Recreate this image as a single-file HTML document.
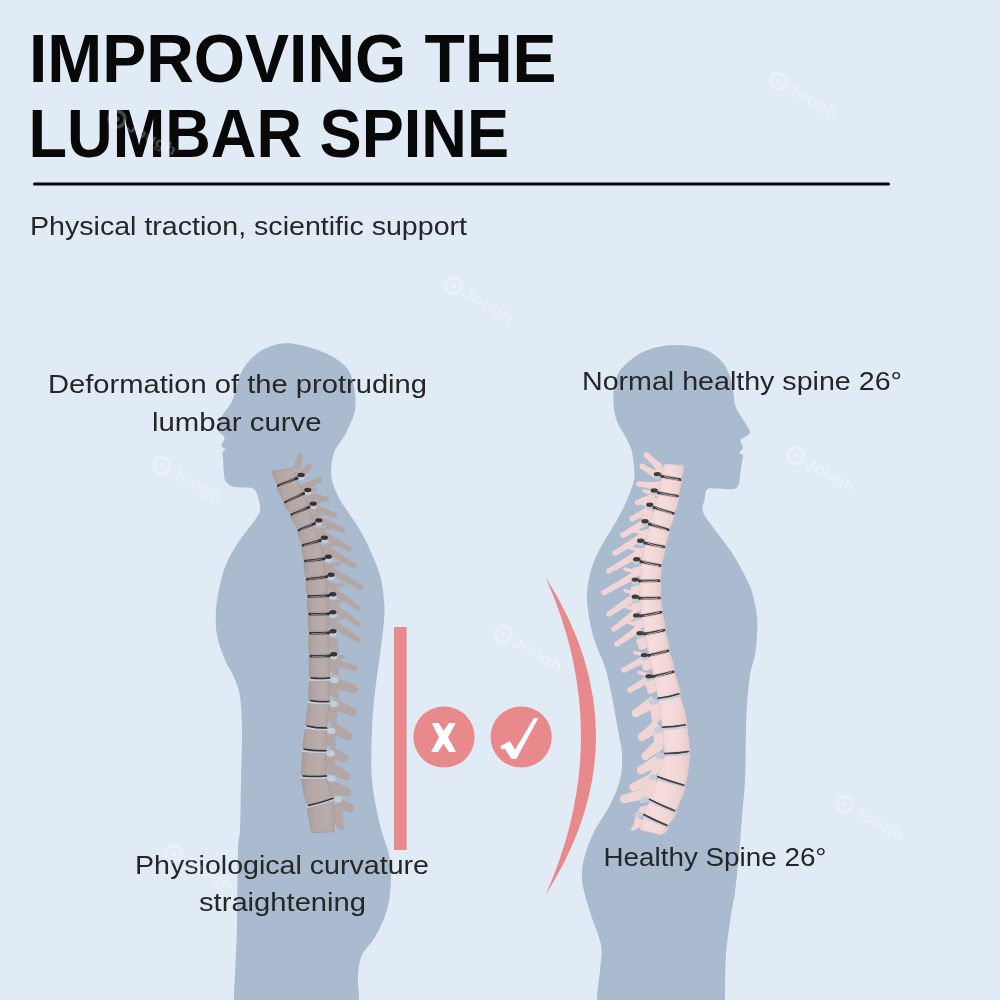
<!DOCTYPE html>
<html><head><meta charset="utf-8"><style>
html,body{margin:0;padding:0;}
body{width:1000px;height:1000px;overflow:hidden;background:#E1EBF6;font-family:"Liberation Sans", sans-serif;}
svg{position:absolute;left:0;top:0;}
.tx{will-change:transform;}
</style></head><body>
<svg width="1000" height="1000" viewBox="0 0 1000 1000" font-family='"Liberation Sans", sans-serif'>
<path d="M290.0,343.3 C299.7,344.1 314.8,348.7 324.0,352.5 C333.2,356.3 340.3,361.5 345.0,366.0 C349.7,370.5 350.7,374.2 352.4,379.5 C354.1,384.8 355.1,391.8 355.4,397.5 C355.7,403.2 355.7,407.8 354.0,414.0 C352.3,420.2 348.2,429.0 345.0,435.0 C341.8,441.0 337.2,445.0 335.0,450.0 C332.8,455.0 332.0,460.0 331.5,465.0 C331.0,470.0 330.8,474.5 332.0,480.0 C333.2,485.5 336.3,492.7 339.0,498.0 C341.7,503.3 344.5,506.7 348.0,512.0 C351.5,517.3 356.3,523.7 360.0,530.0 C363.7,536.3 366.7,542.5 370.0,550.0 C373.3,557.5 377.7,566.7 380.0,575.0 C382.3,583.3 383.3,592.5 384.0,600.0 C384.7,607.5 384.7,610.8 384.0,620.0 C383.3,629.2 381.5,643.0 380.0,655.0 C378.5,667.0 376.3,679.5 375.0,692.0 C373.7,704.5 372.5,715.3 372.0,730.0 C371.5,744.7 370.7,764.2 372.0,780.0 C373.3,795.8 377.2,812.5 380.0,825.0 C382.8,837.5 387.2,845.8 389.0,855.0 C390.8,864.2 391.3,870.8 391.0,880.0 C390.7,889.2 389.7,900.5 387.0,910.0 C384.3,919.5 379.2,929.5 375.0,937.0 C370.8,944.5 364.8,948.7 362.0,955.0 C359.2,961.3 358.5,967.5 358.0,975.0 C357.5,982.5 358.7,985.8 359.0,1000.0 C359.3,1014.2 380.8,1050.0 360.0,1060.0 C339.2,1070.0 255.0,1070.0 234.0,1060.0 C213.0,1050.0 233.8,1014.2 234.0,1000.0 C234.2,985.8 234.5,987.5 235.0,975.0 C235.5,962.5 236.5,945.8 237.0,925.0 C237.5,904.2 237.5,865.8 238.0,850.0 C238.5,834.2 239.5,841.7 240.0,830.0 C240.5,818.3 240.7,796.7 241.0,780.0 C241.3,763.3 242.2,743.8 242.0,730.0 C241.8,716.2 241.3,705.8 240.0,697.0 C238.7,688.2 236.5,683.2 234.0,677.0 C231.5,670.8 227.8,667.0 225.0,660.0 C222.2,653.0 218.5,643.3 217.0,635.0 C215.5,626.7 215.5,618.3 216.0,610.0 C216.5,601.7 218.2,593.0 220.0,585.0 C221.8,577.0 223.7,569.5 227.0,562.0 C230.3,554.5 235.3,547.0 240.0,540.0 C244.7,533.0 251.7,525.0 255.0,520.0 C258.3,515.0 259.5,513.8 260.0,510.0 C260.5,506.2 259.2,500.6 258.0,497.0 C256.8,493.4 256.0,490.1 253.0,488.5 C250.0,486.9 243.7,487.9 240.0,487.5 C236.3,487.1 233.4,487.1 231.0,486.0 C228.6,484.9 226.7,483.0 225.5,481.0 C224.3,479.0 224.3,476.5 224.0,474.0 C223.7,471.5 223.7,468.7 223.5,466.0 C223.3,463.3 223.2,460.2 223.0,458.0 C222.8,455.8 222.1,453.9 222.5,452.5 C222.9,451.1 225.7,450.6 225.5,449.5 C225.3,448.4 221.9,447.2 221.5,446.0 C221.1,444.8 222.5,443.5 223.0,442.0 C223.5,440.5 225.1,438.6 224.5,437.0 C223.9,435.4 220.6,434.0 219.5,432.5 C218.4,431.0 217.9,430.1 218.0,428.0 C218.1,425.9 219.0,422.5 220.0,420.0 C221.0,417.5 222.3,415.5 224.0,413.0 C225.7,410.5 228.3,407.8 230.0,405.0 C231.7,402.2 232.8,399.3 234.0,396.0 C235.2,392.7 235.8,388.8 237.0,385.0 C238.2,381.2 238.8,377.2 241.0,373.0 C243.2,368.8 245.8,364.2 250.0,360.0 C254.2,355.8 259.3,350.8 266.0,348.0 C272.7,345.2 280.3,342.6 290.0,343.3 Z" fill="#AABACF"/><path d="M675.0,345.0 C685.0,344.8 697.0,346.5 705.0,349.5 C713.0,352.5 718.6,357.8 723.0,363.0 C727.4,368.2 729.7,375.5 731.5,381.0 C733.3,386.5 733.1,391.8 733.8,396.0 C734.5,400.2 734.1,402.8 735.5,406.5 C736.9,410.2 739.6,413.8 742.0,418.0 C744.4,422.2 749.3,428.4 750.0,431.5 C750.7,434.6 747.6,435.1 746.0,436.5 C744.4,437.9 741.0,438.1 740.5,440.0 C740.0,441.9 743.1,445.8 742.9,448.0 C742.7,450.2 739.5,451.8 739.5,453.0 C739.5,454.2 742.6,453.5 742.9,455.5 C743.2,457.5 742.0,461.8 741.5,464.8 C741.0,467.8 740.6,470.6 740.2,473.6 C739.8,476.6 740.0,480.4 739.0,483.0 C738.0,485.6 737.8,488.1 734.0,489.0 C730.2,489.9 721.0,488.4 716.5,488.5 C712.0,488.6 709.0,487.6 707.0,489.5 C705.0,491.4 705.2,496.2 704.5,500.0 C703.8,503.8 701.2,507.0 703.0,512.0 C704.8,517.0 710.5,523.7 715.0,530.0 C719.5,536.3 725.5,543.3 730.0,550.0 C734.5,556.7 738.3,563.0 742.0,570.0 C745.7,577.0 749.5,584.2 752.0,592.0 C754.5,599.8 756.2,609.8 757.0,617.0 C757.8,624.2 757.3,628.7 757.0,635.0 C756.7,641.3 756.2,648.3 755.0,655.0 C753.8,661.7 751.3,666.7 750.0,675.0 C748.7,683.3 747.7,695.8 747.0,705.0 C746.3,714.2 746.3,717.5 746.0,730.0 C745.7,742.5 745.7,765.5 745.0,780.0 C744.3,794.5 743.0,804.5 742.0,817.0 C741.0,829.5 740.2,842.5 739.0,855.0 C737.8,867.5 736.3,882.0 735.0,892.0 C733.7,902.0 732.5,904.5 731.0,915.0 C729.5,925.5 727.0,940.8 726.0,955.0 C725.0,969.2 725.2,982.5 725.0,1000.0 C724.8,1017.5 746.3,1050.0 725.0,1060.0 C703.7,1070.0 618.3,1070.0 597.0,1060.0 C575.7,1050.0 596.5,1015.0 597.0,1000.0 C597.5,985.0 599.3,979.2 600.0,970.0 C600.7,960.8 602.7,954.7 601.0,945.0 C599.3,935.3 593.2,922.8 590.0,912.0 C586.8,901.2 582.8,889.5 582.0,880.0 C581.2,870.5 582.8,863.3 585.0,855.0 C587.2,846.7 590.8,838.3 595.0,830.0 C599.2,821.7 605.8,813.3 610.0,805.0 C614.2,796.7 618.0,788.3 620.0,780.0 C622.0,771.7 622.3,763.3 622.0,755.0 C621.7,746.7 619.8,740.5 618.0,730.0 C616.2,719.5 613.2,702.5 611.0,692.0 C608.8,681.5 607.7,675.3 605.0,667.0 C602.3,658.7 597.7,650.3 595.0,642.0 C592.3,633.7 590.3,625.3 589.0,617.0 C587.7,608.7 586.5,600.3 587.0,592.0 C587.5,583.7 589.5,574.8 592.0,567.0 C594.5,559.2 597.8,552.8 602.0,545.0 C606.2,537.2 612.8,527.5 617.0,520.0 C621.2,512.5 624.2,506.7 627.0,500.0 C629.8,493.3 632.9,485.8 634.0,480.0 C635.1,474.2 634.1,470.0 633.7,465.0 C633.3,460.0 632.9,454.7 631.5,450.0 C630.1,445.3 628.0,442.0 625.5,437.0 C623.0,432.0 618.5,425.8 616.5,420.0 C614.5,414.2 613.8,408.2 613.5,402.0 C613.2,395.8 613.4,388.3 615.0,382.5 C616.6,376.7 618.0,372.2 623.0,367.0 C628.0,361.8 636.3,354.7 645.0,351.0 C653.7,347.3 665.0,345.2 675.0,345.0 Z" fill="#AABACF"/>
<defs><linearGradient id="gl" x1="0" y1="0" x2="1" y2="0"><stop offset="0" stop-color="#A89B99"/><stop offset="0.25" stop-color="#B3A6A4"/><stop offset="0.7" stop-color="#B9ADAB"/><stop offset="1" stop-color="#B3A6A4"/></linearGradient></defs><g fill="#B3A6A4"><polygon points="290.0,470.0 301.0,473.0 306.3,478.5 302.3,478.5 291.4,474.9"/><polygon points="294.3,482.0 305.3,485.0 313.0,494.5 309.0,494.5 297.7,489.2"/><polygon points="301.0,497.6 312.0,500.6 318.4,507.5 314.4,507.5 303.7,503.7"/><polygon points="306.4,511.1 317.4,514.1 323.9,523.5 319.9,523.5 309.1,518.9"/><polygon points="311.9,527.5 322.9,530.5 329.6,539.5 325.6,539.5 314.8,535.7"/><polygon points="317.6,544.1 328.6,547.1 333.5,556.5 329.5,556.5 320.2,552.8"/><polygon points="321.5,562.0 332.5,565.0 336.2,574.5 332.2,574.5 322.9,570.5"/><polygon points="324.2,580.0 335.2,583.0 338.0,592.5 334.0,592.5 325.6,588.4"/><polygon points="326.0,598.8 337.0,601.8 338.0,610.5 334.0,610.5 326.0,607.3"/><polygon points="326.0,616.8 337.0,619.8 338.1,629.5 334.1,629.5 326.0,625.8"/><polygon points="326.1,635.8 337.1,638.8 338.8,652.5 334.8,652.5 326.5,646.8"/><polygon points="326.8,658.8 337.8,661.8 339.5,675.5 335.5,675.5 327.2,669.8"/><polygon points="327.5,681.9 338.5,684.9 338.9,698.5 334.9,698.5 327.3,693.3"/><polygon points="326.9,705.4 337.9,708.4 336.5,724.5 332.5,724.5 325.7,718.4"/><polygon points="324.5,731.9 335.5,734.9 335.7,747.5 331.7,747.5 324.1,742.7"/><polygon points="323.7,754.7 334.7,757.7 336.3,773.5 332.3,773.5 323.9,766.5"/><polygon points="324.3,780.0 335.3,783.0 343.1,799.5 339.1,799.5 327.1,789.5"/><polygon points="331.1,802.9 342.1,805.9 344.0,830.5 340.0,830.5 332.0,820.3"/><polygon points="300.0,471.0 302.5,456.7 297.5,455.3 292.7,469.0"/><circle cx="300.0" cy="456.0" r="2.8"/><polygon points="301.5,480.5 311.0,467.7 307.0,464.3 295.8,475.5"/><circle cx="309.0" cy="466.0" r="2.8"/><polygon points="304.5,491.4 320.2,482.3 317.8,477.7 301.1,484.6"/><circle cx="319.0" cy="480.0" r="2.8"/><polygon points="305.0,498.7 325.5,501.6 326.5,496.4 306.5,491.3"/><circle cx="326.0" cy="499.0" r="2.8"/><path d="M302.5,493.0 L315.5,489.5" stroke="#B3A6A4" stroke-width="3.4" stroke-linecap="round"/><polygon points="309.5,510.6 333.2,517.5 334.8,512.5 312.0,503.4"/><circle cx="334.0" cy="515.0" r="2.8"/><path d="M307.5,505.0 L320.5,501.5" stroke="#B3A6A4" stroke-width="3.4" stroke-linecap="round"/><polygon points="313.3,521.5 341.0,532.4 343.0,527.6 316.3,514.5"/><circle cx="342.0" cy="530.0" r="2.8"/><path d="M311.8,516.0 L324.8,512.5" stroke="#B3A6A4" stroke-width="3.4" stroke-linecap="round"/><polygon points="318.2,536.3 347.7,551.3 350.3,546.7 321.9,529.7"/><circle cx="349.0" cy="549.0" r="2.8"/><path d="M317.0,531.0 L330.0,527.5" stroke="#B3A6A4" stroke-width="3.4" stroke-linecap="round"/><polygon points="323.7,552.3 352.7,568.2 355.3,563.8 327.6,545.7"/><circle cx="354.0" cy="566.0" r="2.8"/><path d="M322.6,547.0 L335.6,543.5" stroke="#B3A6A4" stroke-width="3.4" stroke-linecap="round"/><polygon points="326.9,572.3 358.7,589.3 361.3,584.7 330.8,565.7"/><circle cx="360.0" cy="587.0" r="2.8"/><path d="M326.4,567.0 L339.4,563.5" stroke="#B3A6A4" stroke-width="3.4" stroke-linecap="round"/><polygon points="329.8,593.1 356.5,610.1 359.5,605.9 334.2,586.9"/><circle cx="358.0" cy="608.0" r="2.8"/><path d="M329.6,588.0 L342.6,584.5" stroke="#B3A6A4" stroke-width="3.4" stroke-linecap="round"/><polygon points="329.8,609.1 356.5,626.1 359.5,621.9 334.2,602.9"/><circle cx="358.0" cy="624.0" r="2.8"/><path d="M330.0,604.0 L343.0,600.5" stroke="#B3A6A4" stroke-width="3.4" stroke-linecap="round"/><polygon points="329.9,626.2 356.6,642.2 359.4,637.8 334.1,619.8"/><circle cx="358.0" cy="640.0" r="2.8"/><path d="M330.0,621.0 L343.0,617.5" stroke="#B3A6A4" stroke-width="3.4" stroke-linecap="round"/><polygon points="332.0,665.7 354.3,670.5 355.7,665.5 334.0,658.3"/><circle cx="355.0" cy="668.0" r="2.8"/><path d="M330.9,660.0 L343.9,656.5" stroke="#B3A6A4" stroke-width="3.4" stroke-linecap="round"/><polygon points="331.8,688.8 352.9,692.8 355.1,685.2 335.2,677.2"/><circle cx="354.0" cy="689.0" r="4.2"/><polygon points="330.6,709.6 351.5,715.7 354.5,708.3 335.0,698.4"/><circle cx="353.0" cy="712.0" r="4.2"/><polygon points="328.0,732.4 347.2,739.6 350.8,732.4 333.2,721.6"/><circle cx="349.0" cy="736.0" r="4.2"/><polygon points="327.3,757.5 342.5,761.7 345.5,754.3 331.9,746.5"/><circle cx="344.0" cy="758.0" r="4.2"/><polygon points="327.3,773.4 344.2,779.6 347.8,772.4 332.7,762.6"/><circle cx="346.0" cy="776.0" r="4.2"/><polygon points="330.3,792.7 345.7,795.8 348.3,788.2 334.1,781.3"/><circle cx="347.0" cy="792.0" r="4.2"/><polygon points="334.9,808.6 348.6,811.7 351.4,804.3 339.3,797.4"/><circle cx="350.0" cy="808.0" r="4.2"/></g><g fill="#C3CEDB"><ellipse cx="301.3" cy="477.5" rx="3.4" ry="2.6"/><ellipse cx="308.0" cy="492.7" rx="3.4" ry="2.6"/><ellipse cx="313.4" cy="506.4" rx="3.4" ry="2.6"/><ellipse cx="318.9" cy="523.0" rx="3.4" ry="2.6"/><ellipse cx="324.6" cy="540.5" rx="3.4" ry="2.6"/><ellipse cx="328.5" cy="559.5" rx="3.4" ry="2.6"/><ellipse cx="331.2" cy="577.4" rx="3.4" ry="2.6"/><ellipse cx="333.0" cy="596.9" rx="3.4" ry="2.6"/><ellipse cx="333.0" cy="614.9" rx="3.4" ry="2.6"/><ellipse cx="333.1" cy="634.0" rx="3.4" ry="2.6"/><ellipse cx="333.8" cy="657.0" rx="3.4" ry="2.6"/><ellipse cx="334.5" cy="680.1" rx="4.0" ry="3.2"/><ellipse cx="333.9" cy="704.0" rx="4.0" ry="3.2"/><ellipse cx="331.5" cy="730.9" rx="4.0" ry="3.2"/><ellipse cx="330.7" cy="753.4" rx="4.0" ry="3.2"/><ellipse cx="331.3" cy="778.3" rx="4.0" ry="3.2"/><ellipse cx="338.1" cy="799.3" rx="4.0" ry="3.2"/></g><g stroke="#3A3232" fill="none" stroke-linecap="round"><path d="M278.6,485.8 Q286.7,483.2 296.8,478.2" stroke-width="3.2"/><ellipse cx="301.1" cy="474.9" rx="3.6" ry="2.2" stroke="none" fill="#3A3232"/><path d="M285.6,502.4 Q293.5,499.2 303.5,493.6" stroke-width="3.2"/><ellipse cx="307.8" cy="490.0" rx="3.6" ry="2.2" stroke="none" fill="#3A3232"/><path d="M292.1,514.8 Q299.4,512.2 308.9,507.2" stroke-width="3.2"/><ellipse cx="313.2" cy="503.8" rx="3.6" ry="2.2" stroke="none" fill="#3A3232"/><path d="M299.2,530.3 Q305.8,528.2 314.4,523.7" stroke-width="3.2"/><ellipse cx="318.8" cy="520.4" rx="3.6" ry="2.2" stroke="none" fill="#3A3232"/><path d="M303.2,545.5 Q310.6,544.2 320.1,540.5" stroke-width="3.2"/><ellipse cx="324.4" cy="537.8" rx="3.6" ry="2.2" stroke="none" fill="#3A3232"/><path d="M305.6,561.2 Q313.8,561.2 324.0,558.8" stroke-width="3.2"/><ellipse cx="328.3" cy="556.8" rx="3.6" ry="2.2" stroke="none" fill="#3A3232"/><path d="M307.4,579.3 Q316.0,579.2 326.7,576.7" stroke-width="3.2"/><ellipse cx="331.0" cy="574.7" rx="3.6" ry="2.2" stroke="none" fill="#3A3232"/><path d="M308.9,596.3 Q317.6,597.2 328.5,595.7" stroke-width="3.2"/><ellipse cx="332.8" cy="594.2" rx="3.6" ry="2.2" stroke="none" fill="#3A3232"/><path d="M309.8,614.2 Q318.1,615.2 328.5,613.8" stroke-width="3.2"/><ellipse cx="332.8" cy="612.2" rx="3.6" ry="2.2" stroke="none" fill="#3A3232"/><path d="M310.6,633.2 Q318.6,634.2 328.6,632.8" stroke-width="3.2"/><ellipse cx="332.9" cy="631.3" rx="3.6" ry="2.2" stroke="none" fill="#3A3232"/><path d="M310.9,656.2 Q319.1,657.2 329.3,655.8" stroke-width="3.2"/><ellipse cx="333.6" cy="654.3" rx="3.6" ry="2.2" stroke="none" fill="#3A3232"/><path d="M311.1,678.1 Q319.6,679.2 329.5,677.9" stroke-width="1.5"/><path d="M310.4,700.5 Q318.9,702.2 328.9,701.5" stroke-width="1.5"/><path d="M307.2,725.9 Q316.1,728.2 326.5,728.1" stroke-width="1.5"/><path d="M304.2,749.2 Q314.2,751.2 325.7,750.8" stroke-width="1.5"/><path d="M303.2,776.0 Q314.0,777.2 326.3,776.0" stroke-width="1.5"/><path d="M308.7,805.6 Q320.2,803.2 333.1,798.4" stroke-width="1.5"/></g><g stroke="#A89B99" fill="none" opacity="0.9"><path d="M279.5,485.9 Q286.7,483.3 294.3,478.3" stroke-width="0.8"/><path d="M286.5,502.5 Q293.5,499.3 301.0,493.7" stroke-width="0.8"/><path d="M292.9,514.9 Q299.4,512.3 306.4,507.3" stroke-width="0.8"/><path d="M300.1,530.4 Q305.8,528.3 311.9,523.8" stroke-width="0.8"/><path d="M304.1,545.6 Q310.6,544.3 317.6,540.6" stroke-width="0.8"/><path d="M306.5,561.3 Q313.8,561.3 321.5,558.9" stroke-width="0.8"/><path d="M308.3,579.4 Q316.0,579.3 324.2,576.8" stroke-width="0.8"/><path d="M309.8,596.4 Q317.6,597.3 326.0,595.8" stroke-width="0.8"/><path d="M310.7,614.3 Q318.1,615.3 326.0,613.9" stroke-width="0.8"/><path d="M311.5,633.3 Q318.6,634.3 326.1,632.9" stroke-width="0.8"/><path d="M311.8,656.3 Q319.1,657.3 326.8,655.9" stroke-width="0.8"/></g><g fill="url(#gl)" stroke="#A89B99" stroke-width="0.9"><path d="M272.0,471.1 L292.0,468.6 L296.3,476.3 L277.0,483.9 Q273.6,478.6 272.0,471.1 Z"/><path d="M277.0,487.7 L296.3,480.1 L303.0,491.7 L284.0,500.5 Q279.2,494.5 277.0,487.7 Z"/><path d="M284.0,504.3 L303.0,495.5 L308.4,505.3 L290.4,512.9 Q286.4,509.1 284.0,504.3 Z"/><path d="M290.4,516.7 L308.4,509.1 L313.9,521.8 L297.6,528.4 Q293.2,522.7 290.4,516.7 Z"/><path d="M297.6,532.2 L313.9,525.6 L319.6,538.6 L301.6,543.6 Q299.2,537.5 297.6,532.2 Z"/><path d="M301.6,547.4 L319.6,542.4 L323.5,556.9 L304.0,559.3 Q302.3,553.2 301.6,547.4 Z"/><path d="M304.0,563.1 L323.5,560.7 L326.2,574.8 L305.8,577.4 Q304.1,570.3 304.0,563.1 Z"/><path d="M305.8,581.2 L326.2,578.6 L328.0,593.8 L307.3,594.4 Q305.9,588.4 305.8,581.2 Z"/><path d="M307.3,598.2 L328.0,597.6 L328.0,611.9 L308.2,612.3 Q306.9,605.3 307.3,598.2 Z"/><path d="M308.2,616.1 L328.0,615.7 L328.1,630.9 L309.0,631.3 Q307.9,623.8 308.2,616.1 Z"/><path d="M309.0,635.1 L328.1,634.7 L328.8,653.9 L309.3,654.3 Q308.4,644.7 309.0,635.1 Z"/><path d="M309.3,658.1 L328.8,657.7 L329.5,677.0 L309.6,677.2 Q308.6,667.7 309.3,658.1 Z"/><path d="M309.6,681.0 L329.5,680.8 L328.9,700.6 L308.9,699.6 Q308.5,690.1 309.6,681.0 Z"/><path d="M308.9,703.4 L328.9,704.4 L326.5,727.2 L305.7,725.0 Q306.6,713.8 308.9,703.4 Z"/><path d="M305.7,728.8 L326.5,731.0 L325.7,749.9 L302.7,748.3 Q303.4,738.5 305.7,728.8 Z"/><path d="M302.7,752.1 L325.7,753.7 L326.3,775.1 L301.7,775.1 Q301.3,764.0 302.7,752.1 Z"/><path d="M301.7,778.9 L326.3,778.9 L333.1,797.5 L307.2,804.7 Q303.1,793.8 301.7,778.9 Z"/><path d="M307.2,808.5 L333.1,801.3 L334.0,831.7 L312.0,832.5 Q309.0,819.4 307.2,808.5 Z"/></g><path d="M309.1,679.5 Q319.6,680.6 330.0,679.3" stroke="#C3CEDB" stroke-width="2.2" fill="none"/><path d="M308.4,701.9 Q318.9,703.6 329.4,702.9" stroke="#C3CEDB" stroke-width="2.2" fill="none"/><path d="M305.2,727.3 Q316.1,729.6 327.0,729.5" stroke="#C3CEDB" stroke-width="2.2" fill="none"/><path d="M302.2,750.6 Q314.2,752.6 326.2,752.2" stroke="#C3CEDB" stroke-width="2.2" fill="none"/><path d="M301.2,777.4 Q314.0,778.6 326.8,777.4" stroke="#C3CEDB" stroke-width="2.2" fill="none"/><path d="M306.7,807.0 Q320.2,804.6 333.6,799.8" stroke="#C3CEDB" stroke-width="2.2" fill="none"/><g stroke="#3A3232" fill="none" stroke-linecap="round"><path d="M311.1,678.1 Q319.6,679.2 329.5,677.9" stroke-width="1.5"/><path d="M310.4,700.5 Q318.9,702.2 328.9,701.5" stroke-width="1.5"/><path d="M307.2,725.9 Q316.1,728.2 326.5,728.1" stroke-width="1.5"/><path d="M304.2,749.2 Q314.2,751.2 325.7,750.8" stroke-width="1.5"/><path d="M303.2,776.0 Q314.0,777.2 326.3,776.0" stroke-width="1.5"/><path d="M308.7,805.6 Q320.2,803.2 333.1,798.4" stroke-width="1.5"/></g><defs><linearGradient id="gr" x1="1" y1="0" x2="0" y2="0"><stop offset="0" stop-color="#E6C9C9"/><stop offset="0.25" stop-color="#F1D5D5"/><stop offset="0.7" stop-color="#F6DDDD"/><stop offset="1" stop-color="#F1D5D5"/></linearGradient></defs><g fill="#F1D5D5"><polygon points="667.0,465.4 656.0,468.4 652.1,474.5 656.1,474.5 665.5,471.7"/><polygon points="664.1,479.7 653.1,482.7 648.9,491.0 652.9,491.0 662.5,487.4"/><polygon points="660.9,496.1 649.9,499.1 644.6,507.1 648.6,507.1 659.0,502.7"/><polygon points="656.6,511.2 645.6,514.2 639.8,523.5 643.8,523.5 654.2,519.0"/><polygon points="651.8,527.7 640.8,530.7 635.4,541.5 639.4,541.5 649.3,536.7"/><polygon points="647.4,546.4 636.4,549.4 631.5,560.2 635.5,560.2 645.5,555.3"/><polygon points="643.5,565.1 632.5,568.1 630.0,577.3 634.0,577.3 642.0,574.4"/><polygon points="642.0,583.9 631.0,586.9 630.0,594.5 634.0,594.5 642.0,592.0"/><polygon points="642.0,601.1 631.0,604.1 631.4,610.5 635.4,610.5 642.0,609.1"/><polygon points="643.4,618.6 632.4,621.6 634.9,628.5 638.9,628.5 645.1,627.0"/><polygon points="646.9,636.5 635.9,639.5 639.1,649.5 643.1,649.5 648.9,646.5"/><polygon points="651.1,657.9 640.1,660.9 643.8,670.5 647.8,670.5 653.4,667.9"/><polygon points="655.8,679.0 644.8,682.0 648.2,693.5 652.2,693.5 658.2,689.8"/><polygon points="660.2,701.9 649.2,704.9 652.6,723.5 656.6,723.5 662.7,716.5"/><polygon points="664.6,731.0 653.6,734.0 654.8,750.0 658.8,750.0 665.7,743.7"/><polygon points="666.8,757.2 655.8,760.2 647.8,778.5 651.8,778.5 663.7,767.8"/><polygon points="659.8,781.4 648.8,784.4 639.6,802.5 643.6,802.5 656.2,792.3"/><polygon points="651.6,804.1 640.6,807.1 633.7,817.5 637.7,817.5 648.6,811.2"/><polygon points="645.7,819.4 634.7,822.4 630.0,830.5 634.0,830.5 643.2,825.3"/><polygon points="662.7,465.3 648.2,453.1 644.6,456.9 657.4,470.7"/><circle cx="646.4" cy="455.0" r="2.8"/><polygon points="660.4,473.2 643.8,464.2 641.0,468.6 656.4,479.6"/><circle cx="642.4" cy="466.4" r="2.8"/><polygon points="657.0,482.2 639.3,481.4 638.7,486.6 656.1,489.8"/><circle cx="639.0" cy="484.0" r="2.8"/><polygon points="653.2,492.9 636.8,500.1 638.6,504.9 655.8,500.1"/><circle cx="637.7" cy="502.5" r="2.8"/><path d="M657.1,494.5 L644.1,491.0" stroke="#F1D5D5" stroke-width="3.4" stroke-linecap="round"/><polygon points="649.4,505.3 630.8,516.4 633.2,521.0 652.9,512.1"/><circle cx="632.0" cy="518.7" r="2.8"/><path d="M654.0,506.7 L641.0,503.2" stroke="#F1D5D5" stroke-width="3.4" stroke-linecap="round"/><polygon points="645.7,517.7 621.7,532.7 624.3,537.3 649.5,524.3"/><circle cx="623.0" cy="535.0" r="2.8"/><path d="M650.5,519.0 L637.5,515.5" stroke="#F1D5D5" stroke-width="3.4" stroke-linecap="round"/><polygon points="641.3,532.7 613.7,550.8 616.3,555.2 645.2,539.3"/><circle cx="615.0" cy="553.0" r="2.8"/><path d="M646.1,534.0 L633.1,530.5" stroke="#F1D5D5" stroke-width="3.4" stroke-linecap="round"/><polygon points="637.8,549.7 607.7,568.8 610.3,573.2 641.7,556.3"/><circle cx="609.0" cy="571.0" r="2.8"/><path d="M642.4,551.0 L629.4,547.5" stroke="#F1D5D5" stroke-width="3.4" stroke-linecap="round"/><polygon points="634.1,571.2 602.7,590.2 605.3,594.8 637.9,577.8"/><circle cx="604.0" cy="592.5" r="2.8"/><path d="M638.0,572.5 L625.0,569.0" stroke="#F1D5D5" stroke-width="3.4" stroke-linecap="round"/><polygon points="633.9,592.8 607.6,611.8 610.4,616.2 638.1,599.2"/><circle cx="609.0" cy="614.0" r="2.8"/><path d="M638.0,594.0 L625.0,590.5" stroke="#F1D5D5" stroke-width="3.4" stroke-linecap="round"/><polygon points="634.7,608.9 612.5,626.9 615.5,631.1 639.2,615.1"/><circle cx="614.0" cy="629.0" r="2.8"/><path d="M638.4,610.0 L625.4,606.5" stroke="#F1D5D5" stroke-width="3.4" stroke-linecap="round"/><polygon points="637.9,624.9 615.5,641.9 618.5,646.1 642.3,631.1"/><circle cx="617.0" cy="644.0" r="2.8"/><path d="M641.5,626.0 L628.5,622.5" stroke="#F1D5D5" stroke-width="3.4" stroke-linecap="round"/><polygon points="644.4,654.7 622.8,667.7 625.2,672.3 648.0,661.3"/><circle cx="624.0" cy="670.0" r="2.8"/><path d="M647.6,656.0 L634.6,652.5" stroke="#F1D5D5" stroke-width="3.4" stroke-linecap="round"/><polygon points="648.8,674.7 628.7,687.8 631.3,692.2 652.6,681.3"/><circle cx="630.0" cy="690.0" r="2.8"/><path d="M652.0,676.0 L639.0,672.5" stroke="#F1D5D5" stroke-width="3.4" stroke-linecap="round"/><polygon points="651.6,695.9 633.9,709.6 638.1,716.4 658.1,706.1"/><circle cx="636.0" cy="713.0" r="4.2"/><polygon points="654.9,720.2 639.6,733.8 644.4,740.2 662.0,729.8"/><circle cx="642.0" cy="737.0" r="4.2"/><polygon points="656.2,739.4 642.9,752.9 648.1,759.1 663.8,748.6"/><circle cx="645.5" cy="756.0" r="4.2"/><polygon points="657.1,754.7 639.1,766.5 642.9,773.5 662.7,765.3"/><circle cx="641.0" cy="770.0" r="4.2"/><polygon points="652.6,772.5 632.0,783.3 635.2,790.7 657.2,783.5"/><circle cx="633.6" cy="787.0" r="4.2"/><polygon points="649.5,786.2 623.0,795.1 625.0,802.9 652.5,797.8"/><circle cx="624.0" cy="799.0" r="4.2"/><polygon points="635.4,815.8 634.6,820.9 641.4,825.1 645.6,822.2"/><circle cx="638.0" cy="823.0" r="4.2"/></g><g fill="#C3CEDB"><ellipse cx="657.1" cy="476.8" rx="3.4" ry="2.6"/><ellipse cx="653.9" cy="493.2" rx="3.4" ry="2.6"/><ellipse cx="649.6" cy="507.4" rx="3.4" ry="2.6"/><ellipse cx="644.8" cy="523.9" rx="3.4" ry="2.6"/><ellipse cx="640.4" cy="543.3" rx="3.4" ry="2.6"/><ellipse cx="636.5" cy="562.0" rx="3.4" ry="2.6"/><ellipse cx="635.0" cy="582.3" rx="3.4" ry="2.6"/><ellipse cx="635.0" cy="599.5" rx="3.4" ry="2.6"/><ellipse cx="636.4" cy="618.1" rx="3.4" ry="2.6"/><ellipse cx="639.9" cy="636.1" rx="3.4" ry="2.6"/><ellipse cx="644.1" cy="657.9" rx="3.4" ry="2.6"/><ellipse cx="648.8" cy="678.9" rx="3.4" ry="2.6"/><ellipse cx="653.2" cy="701.6" rx="4.0" ry="3.2"/><ellipse cx="657.6" cy="730.0" rx="4.0" ry="3.2"/><ellipse cx="659.8" cy="756.0" rx="4.0" ry="3.2"/><ellipse cx="652.8" cy="777.5" rx="4.0" ry="3.2"/><ellipse cx="644.6" cy="799.4" rx="4.0" ry="3.2"/><ellipse cx="638.7" cy="814.6" rx="4.0" ry="3.2"/></g><g stroke="#433A3A" fill="none" stroke-linecap="round"><path d="M679.6,479.7 Q671.6,479.2 661.6,476.3" stroke-width="3.2"/><ellipse cx="657.3" cy="474.1" rx="3.6" ry="2.2" stroke="none" fill="#433A3A"/><path d="M677.1,496.2 Q668.8,495.7 658.4,492.8" stroke-width="3.2"/><ellipse cx="654.1" cy="490.5" rx="3.6" ry="2.2" stroke="none" fill="#433A3A"/><path d="M672.9,513.6 Q664.5,511.8 654.1,507.6" stroke-width="3.2"/><ellipse cx="649.8" cy="504.8" rx="3.6" ry="2.2" stroke="none" fill="#433A3A"/><path d="M667.8,529.9 Q659.6,528.2 649.3,524.1" stroke-width="3.2"/><ellipse cx="645.0" cy="521.2" rx="3.6" ry="2.2" stroke="none" fill="#433A3A"/><path d="M663.5,547.0 Q655.2,546.2 644.9,543.0" stroke-width="3.2"/><ellipse cx="640.6" cy="540.7" rx="3.6" ry="2.2" stroke="none" fill="#433A3A"/><path d="M659.8,565.7 Q651.5,564.9 641.0,561.7" stroke-width="3.2"/><ellipse cx="636.7" cy="559.3" rx="3.6" ry="2.2" stroke="none" fill="#433A3A"/><path d="M658.7,580.7 Q650.1,582.0 639.5,580.9" stroke-width="3.2"/><ellipse cx="635.2" cy="579.6" rx="3.6" ry="2.2" stroke="none" fill="#433A3A"/><path d="M659.1,597.9 Q650.4,599.2 639.5,598.1" stroke-width="3.2"/><ellipse cx="635.2" cy="596.8" rx="3.6" ry="2.2" stroke="none" fill="#433A3A"/><path d="M660.7,612.1 Q651.8,615.2 640.9,615.9" stroke-width="3.2"/><ellipse cx="636.6" cy="615.4" rx="3.6" ry="2.2" stroke="none" fill="#433A3A"/><path d="M663.7,630.1 Q655.1,633.2 644.4,633.9" stroke-width="3.2"/><ellipse cx="640.1" cy="633.3" rx="3.6" ry="2.2" stroke="none" fill="#433A3A"/><path d="M667.6,650.6 Q659.2,654.2 648.6,655.4" stroke-width="3.2"/><ellipse cx="644.3" cy="655.1" rx="3.6" ry="2.2" stroke="none" fill="#433A3A"/><path d="M672.9,671.6 Q664.1,675.2 653.3,676.4" stroke-width="3.2"/><ellipse cx="649.0" cy="676.2" rx="3.6" ry="2.2" stroke="none" fill="#433A3A"/><path d="M678.8,693.7 Q669.2,697.2 658.2,698.3" stroke-width="1.5"/><path d="M685.3,724.8 Q674.7,727.2 662.6,727.2" stroke-width="1.5"/><path d="M688.2,751.6 Q677.3,753.7 664.8,753.4" stroke-width="1.5"/><path d="M683.8,785.2 Q671.5,782.2 657.8,776.8" stroke-width="1.5"/><path d="M674.5,810.7 Q662.8,806.2 649.6,799.3" stroke-width="1.5"/><path d="M667.0,825.5 Q656.1,821.2 643.7,814.5" stroke-width="1.5"/></g><g stroke="#E6C9C9" fill="none" opacity="0.9"><path d="M678.7,479.8 Q671.6,479.3 664.1,476.4" stroke-width="0.8"/><path d="M676.2,496.3 Q668.8,495.8 660.9,492.9" stroke-width="0.8"/><path d="M672.0,513.7 Q664.5,511.9 656.6,507.7" stroke-width="0.8"/><path d="M666.9,530.0 Q659.6,528.3 651.8,524.2" stroke-width="0.8"/><path d="M662.6,547.1 Q655.2,546.3 647.4,543.1" stroke-width="0.8"/><path d="M658.9,565.8 Q651.5,565.0 643.5,561.8" stroke-width="0.8"/><path d="M657.8,580.8 Q650.1,582.1 642.0,581.0" stroke-width="0.8"/><path d="M658.2,598.0 Q650.4,599.3 642.0,598.2" stroke-width="0.8"/><path d="M659.8,612.2 Q651.8,615.3 643.4,616.0" stroke-width="0.8"/><path d="M662.8,630.2 Q655.1,633.3 646.9,634.0" stroke-width="0.8"/><path d="M666.8,650.7 Q659.2,654.3 651.1,655.5" stroke-width="0.8"/><path d="M672.0,671.7 Q664.1,675.3 655.8,676.5" stroke-width="0.8"/></g><g fill="url(#gr)" stroke="#E6C9C9" stroke-width="0.9"><path d="M683.5,465.7 L665.0,464.1 L662.1,474.4 L681.2,477.8 Q683.2,472.3 683.5,465.7 Z"/><path d="M681.2,481.6 L662.1,478.2 L658.9,490.9 L678.7,494.3 Q680.7,488.1 681.2,481.6 Z"/><path d="M678.7,498.1 L658.9,494.7 L654.6,505.7 L674.5,511.7 Q677.7,505.8 678.7,498.1 Z"/><path d="M674.5,515.5 L654.6,509.5 L649.8,522.2 L669.4,528.0 Q672.8,522.0 674.5,515.5 Z"/><path d="M669.4,531.8 L649.8,526.0 L645.4,541.1 L665.1,545.1 Q667.6,538.5 669.4,531.8 Z"/><path d="M665.1,548.9 L645.4,544.9 L641.5,559.8 L661.4,563.8 Q664.0,556.5 665.1,548.9 Z"/><path d="M661.4,567.6 L641.5,563.6 L640.0,579.0 L660.3,578.8 Q660.8,572.8 661.4,567.6 Z"/><path d="M660.3,582.6 L640.0,582.8 L640.0,596.2 L660.8,596.0 Q661.3,589.2 660.3,582.6 Z"/><path d="M660.8,599.8 L640.0,600.0 L641.4,614.0 L662.3,610.2 Q661.8,605.2 660.8,599.8 Z"/><path d="M662.3,614.0 L641.4,617.8 L644.9,632.0 L665.3,628.2 Q664.6,621.0 662.3,614.0 Z"/><path d="M665.3,632.0 L644.9,635.8 L649.1,653.5 L669.2,648.7 Q667.9,640.5 665.3,632.0 Z"/><path d="M669.2,652.5 L649.1,657.3 L653.8,674.5 L674.5,669.7 Q672.7,660.9 669.2,652.5 Z"/><path d="M674.5,673.5 L653.8,678.3 L658.2,697.4 L680.2,692.8 Q678.2,683.1 674.5,673.5 Z"/><path d="M680.2,696.6 L658.2,701.2 L662.6,726.3 L686.8,723.9 Q684.8,709.4 680.2,696.6 Z"/><path d="M686.8,727.7 L662.6,730.1 L664.8,752.5 L689.7,750.7 Q689.0,739.0 686.8,727.7 Z"/><path d="M689.7,754.5 L664.8,756.3 L657.8,775.9 L685.2,784.3 Q688.8,770.9 689.7,754.5 Z"/><path d="M685.2,788.1 L657.8,779.7 L649.6,798.4 L676.0,809.8 Q681.5,799.2 685.2,788.1 Z"/><path d="M676.0,813.6 L649.6,802.2 L643.7,813.6 L668.5,824.6 Q673.0,819.5 676.0,813.6 Z"/><path d="M668.5,828.4 L643.7,817.4 L640.0,829.6 L660.0,834.6 Q666.0,833.5 668.5,828.4 Z"/></g><path d="M680.8,695.1 Q669.2,698.6 657.7,699.7" stroke="#C3CEDB" stroke-width="2.2" fill="none"/><path d="M687.3,726.2 Q674.7,728.6 662.1,728.6" stroke="#C3CEDB" stroke-width="2.2" fill="none"/><path d="M690.2,753.0 Q677.3,755.1 664.3,754.8" stroke="#C3CEDB" stroke-width="2.2" fill="none"/><path d="M685.8,786.6 Q671.5,783.6 657.3,778.2" stroke="#C3CEDB" stroke-width="2.2" fill="none"/><path d="M676.5,812.1 Q662.8,807.6 649.1,800.7" stroke="#C3CEDB" stroke-width="2.2" fill="none"/><path d="M669.0,826.9 Q656.1,822.6 643.2,815.9" stroke="#C3CEDB" stroke-width="2.2" fill="none"/><g stroke="#433A3A" fill="none" stroke-linecap="round"><path d="M678.8,693.7 Q669.2,697.2 658.2,698.3" stroke-width="1.5"/><path d="M685.3,724.8 Q674.7,727.2 662.6,727.2" stroke-width="1.5"/><path d="M688.2,751.6 Q677.3,753.7 664.8,753.4" stroke-width="1.5"/><path d="M683.8,785.2 Q671.5,782.2 657.8,776.8" stroke-width="1.5"/><path d="M674.5,810.7 Q662.8,806.2 649.6,799.3" stroke-width="1.5"/><path d="M667.0,825.5 Q656.1,821.2 643.7,814.5" stroke-width="1.5"/></g>
<rect x="394" y="627" width="12.6" height="223" fill="#E8898B"/><circle cx="444" cy="737" r="30.6" fill="#E8898B"/><circle cx="521.2" cy="737" r="30.6" fill="#E8898B"/><path d="M545.5,577 Q646.5,736 545.5,895 Q616.5,736 545.5,577 Z" fill="#E8898B"/><path d="M431.6,723 L438.7,723 L443.7,730.8 L449,723 L455.8,723 L448,737.3 L456.1,751.9 L449,751.9 L443.4,743.8 L438.1,751.9 L431,751.9 L439,737.3 Z" fill="#fff"/><path d="M500.2,746.3 L509.8,741 L515.1,749.7 L534,718.1 L538.4,718.1 L516.3,759 L511.4,759 L504.9,748.8 L501.8,749.4 Z" fill="#fff"/>
<rect x="33" y="182.5" width="857" height="3" rx="1.5" fill="#0a0a0a"/>
</svg>
<svg class="tx" width="1000" height="1000" viewBox="0 0 1000 1000" font-family='"Liberation Sans", sans-serif'>
<text x="29.0" y="81.6" font-weight="700" font-size="67.6" textLength="527.5" lengthAdjust="spacingAndGlyphs" fill="#080808">IMPROVING THE</text>
<text x="28.5" y="156.6" font-weight="700" font-size="67.6" textLength="480.5" lengthAdjust="spacingAndGlyphs" fill="#080808">LUMBAR SPINE</text>
<text x="30.0" y="234.8" font-weight="400" font-size="25" textLength="437.0" lengthAdjust="spacingAndGlyphs" fill="#262626">Physical traction, scientific support</text>
<text x="48.0" y="392.8" font-weight="400" font-size="25" textLength="379.0" lengthAdjust="spacingAndGlyphs" fill="#262626">Deformation of the protruding</text>
<text x="152.0" y="430.6" font-weight="400" font-size="25" textLength="169.5" lengthAdjust="spacingAndGlyphs" fill="#262626">lumbar curve</text>
<text x="582.0" y="389.8" font-weight="400" font-size="25" textLength="320.0" lengthAdjust="spacingAndGlyphs" fill="#262626">Normal healthy spine 26°</text>
<text x="135.0" y="873.6" font-weight="400" font-size="25" textLength="294.0" lengthAdjust="spacingAndGlyphs" fill="#262626">Physiological curvature</text>
<text x="199.0" y="911" font-weight="400" font-size="25" textLength="167.0" lengthAdjust="spacingAndGlyphs" fill="#262626">straightening</text>
<text x="603.5" y="865.5" font-weight="400" font-size="25" textLength="223.0" lengthAdjust="spacingAndGlyphs" fill="#262626">Healthy Spine 26°</text>

<g fill="#ffffff" opacity="0.26"><g transform="translate(778.5,81.5) rotate(29)"><circle r="8" fill="none" stroke="#fff" stroke-width="3.4"/><circle r="2.6"/><text x="12" y="5" font-size="15" font-weight="700" textLength="55" lengthAdjust="spacingAndGlyphs">Jough</text></g><g transform="translate(117,119) rotate(29)"><circle r="8" fill="none" stroke="#fff" stroke-width="3.4"/><circle r="2.6"/><text x="12" y="5" font-size="15" font-weight="700" textLength="55" lengthAdjust="spacingAndGlyphs">Jough</text></g><g transform="translate(453.6,285.7) rotate(29)"><circle r="8" fill="none" stroke="#fff" stroke-width="3.4"/><circle r="2.6"/><text x="12" y="5" font-size="15" font-weight="700" textLength="55" lengthAdjust="spacingAndGlyphs">Jough</text></g><g transform="translate(162,465.7) rotate(29)"><circle r="8" fill="none" stroke="#fff" stroke-width="3.4"/><circle r="2.6"/><text x="12" y="5" font-size="15" font-weight="700" textLength="55" lengthAdjust="spacingAndGlyphs">Jough</text></g><g transform="translate(795.7,455.7) rotate(29)"><circle r="8" fill="none" stroke="#fff" stroke-width="3.4"/><circle r="2.6"/><text x="12" y="5" font-size="15" font-weight="700" textLength="55" lengthAdjust="spacingAndGlyphs">Jough</text></g><g transform="translate(502.9,634.3) rotate(29)"><circle r="8" fill="none" stroke="#fff" stroke-width="3.4"/><circle r="2.6"/><text x="12" y="5" font-size="15" font-weight="700" textLength="55" lengthAdjust="spacingAndGlyphs">Jough</text></g><g transform="translate(173.4,853.6) rotate(29)"><circle r="8" fill="none" stroke="#fff" stroke-width="3.4"/><circle r="2.6"/><text x="12" y="5" font-size="15" font-weight="700" textLength="55" lengthAdjust="spacingAndGlyphs">Jough</text></g><g transform="translate(845,804.3) rotate(29)"><circle r="8" fill="none" stroke="#fff" stroke-width="3.4"/><circle r="2.6"/><text x="12" y="5" font-size="15" font-weight="700" textLength="55" lengthAdjust="spacingAndGlyphs">Jough</text></g></g>
</svg>
</body></html>
